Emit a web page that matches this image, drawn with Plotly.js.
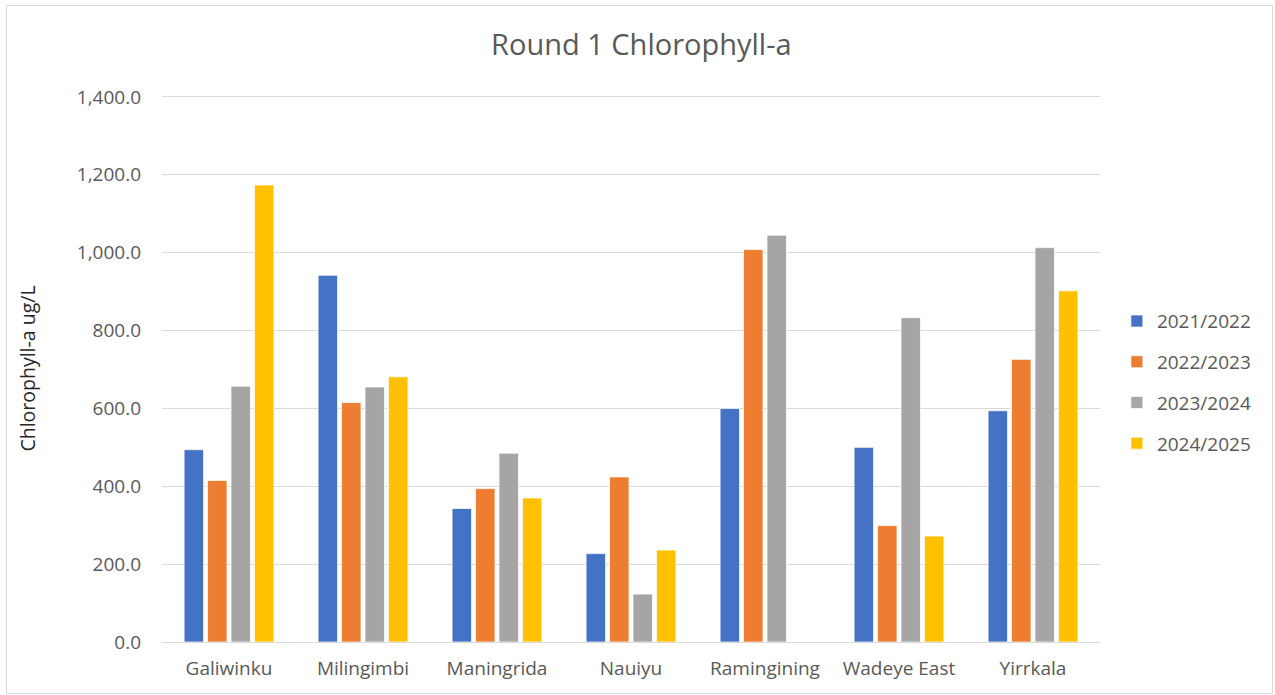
<!DOCTYPE html>
<html>
<head>
<meta charset="utf-8">
<script src="https://cdn.plot.ly/plotly-3.0.1.min.js"></script>
<style>
html,body{margin:0;padding:0;background:#fff;}
#chart{width:1275px;height:695px;}
#frame{position:absolute;left:6px;top:5px;width:1265px;height:687px;border:1px solid #d9d9d9;pointer-events:none;}
</style>
</head>
<body>
<div id="chart"></div>
<div id="frame"></div>
<script>
const categories = ["Galiwinku", "Milingimbi", "Maningrida", "Nauiyu", "Ramingining", "Wadeye East", "Yirrkala"];
const seriesNames = ["2021/2022", "2022/2023", "2023/2024", "2024/2025"];
const s2021 = [494, 942, 343, 227, 600, 500, 594];
const s2022 = [415, 615, 394, 424, 1008, 299, 726];
const s2023 = [657, 655, 485, 123, 1045, 833, 1013];
const s2024 = [1174, 681, 370, 236, null, 272, 902];
const colors = ["#4472C4", "#ED7D31", "#A5A5A5", "#FFC000"];
const allSeries = [s2021, s2022, s2023, s2024];

const font = "'Open Sans', sans-serif";
const traces = allSeries.map((vals, i) => ({
  type: "bar",
  name: seriesNames[i],
  x: categories,
  y: vals,
  legendgroup: "g" + i,
  marker: {color: colors[i], line: {color: "#ffffff", width: 0.75}},
  hoverinfo: "x+y+name"
}));

const layout = {
  width: 1275, height: 695,
  paper_bgcolor: "#ffffff", plot_bgcolor: "#ffffff",
  margin: {l: 162, r: 175, t: 95, b: 53},
  barmode: "group",
  bargap: 0.3,
  bargroupgap: 0.17,
  title: {text: "Round 1 Chlorophyll-a", x: 0.503, xanchor: "center", y: 0.935, yanchor: "middle",
          font: {family: font, size: 29, color: "#595959"}},
  xaxis: {
    tickfont: {family: font, size: 19, color: "#595959"},
    showline: true, linecolor: "#d9d9d9", linewidth: 1,
    ticks: "", showgrid: false,
    ticklabelstandoff: 9
  },
  yaxis: {
    range: [0, 1405], dtick: 200, tick0: 0,
    tickformat: ",.1f",
    tickfont: {family: font, size: 19, color: "#595959"},
    gridcolor: "#d9d9d9", gridwidth: 1,
    zeroline: false, ticks: "",
    ticklabelstandoff: 20,
    title: {text: "Chlorophyll-a ug/L", font: {family: font, size: 19.5, color: "#262626"}, standoff: 35}
  },
  legend: {
    x: 1.018, xanchor: "left", y: 0.475, yanchor: "middle",
    font: {family: font, size: 19, color: "#595959"},
    tracegroupgap: 13,
    itemwidth: 30
  },
  showlegend: true
};

Plotly.newPlot("chart", traces, layout, {displayModeBar: false, staticPlot: true});
</script>
</body>
</html>
